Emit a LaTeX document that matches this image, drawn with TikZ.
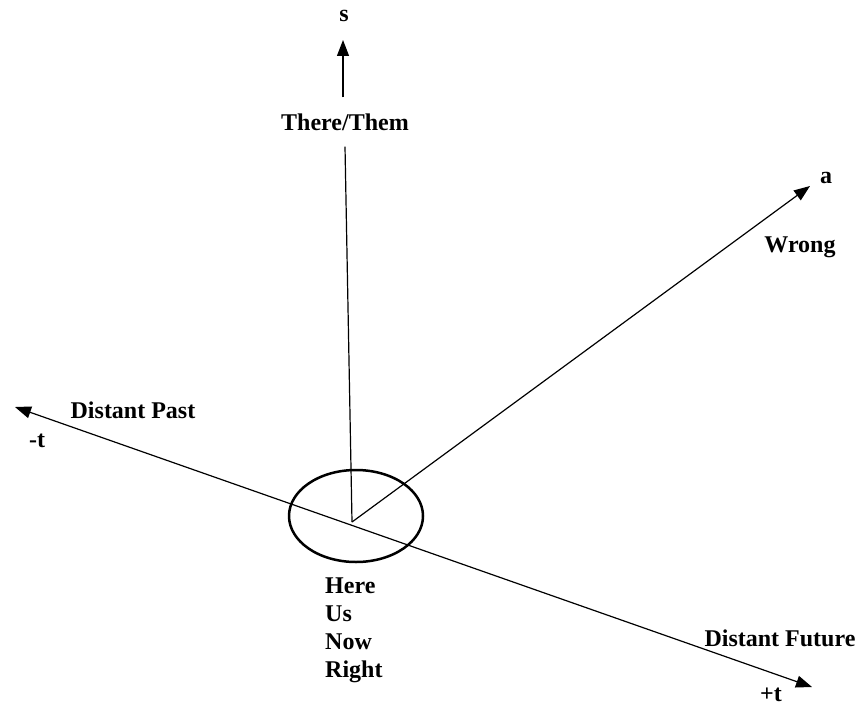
\documentclass[tikz,border=0pt]{standalone}
\usepackage{fontspec}
\setmainfont{Liberation Serif}
\usetikzlibrary{arrows.meta,shapes.geometric}
\tikzset{
    axis/.style={line width=1.2pt, -{Triangle[length=16pt,width=12pt]}},
    lbl/.style={font=\fontsize{24}{28}\selectfont\bfseries, inner sep=0pt}
}
\begin{document}
\begin{tikzpicture}[x=1pt,y=-1pt]
    \useasboundingbox (0,0) rectangle (858,706);
    % origin and arrow ends
    \coordinate (O) at (352,522);
    \coordinate (sEnd) at (343,40);
    \coordinate (aEnd) at (810,186);
    \coordinate (past) at (15,407);
    \coordinate (future) at (812,687);
    \node[ellipse, draw, line width=2.5pt, minimum width=134pt, minimum height=92pt] (here) at (356,516) {};
    \node[lbl, minimum height=49pt] (there) at (345,122) {There/Them};
    \draw[line width=1.2pt] (O) -- (there.south);
    \draw[axis] (there.north -| sEnd) -- (sEnd);
    \draw[axis] (O) -- (aEnd);
    \draw[axis, {Triangle[length=16pt,width=12pt]}-{Triangle[length=16pt,width=12pt]}] (past) -- (future);
    % labels
    \node[lbl] (s) at (344,16) {s};
    \node[lbl] (a) at (826,178) {a};
    \node[lbl] (wrong) at (800,247) {Wrong};
    \node[lbl] (distpast) at (133,410) {Distant Past};
    \node[lbl] (mt) at (37,441) {-t};
    \node[lbl] (distfut) at (780,638) {Distant Future};
    \node[lbl] (pt) at (771,695) {+t};
    \node[lbl, align=left, anchor=north west] (hunr) at (325,578) {Here\\Us\\Now\\Right};
\end{tikzpicture}
\end{document}
